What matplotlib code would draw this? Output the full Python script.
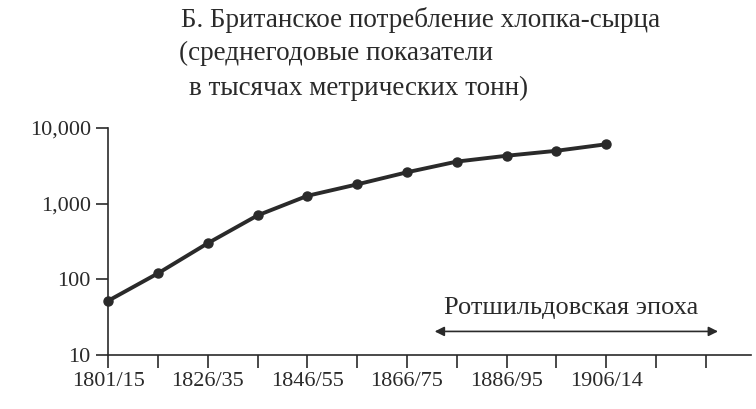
import matplotlib
matplotlib.use("Agg")
import matplotlib.pyplot as plt
from matplotlib.ticker import FixedLocator, NullLocator

periods = ["1801/15", "", "1826/35", "", "1846/55", "", "1866/75", "", "1886/95", "", "1906/14"]
values = [52, 120, 300, 700, 1270, 1800, 2600, 3600, 4300, 5000, 6100]
yticks = [10, 100, 1000, 10000]
ylabels = ["10", "100", "1,000", "10,000"]
title = ["Б. Британское потребление хлопка-сырца",
         " (среднегодовые показатели",
         "  в тысячах метрических тонн)"]
era = "Ротшильдовская эпоха"

plt.rcParams['font.family'] = ['Liberation Serif', 'DejaVu Serif']
fig = plt.figure(figsize=(7.56, 4.09), dpi=100)
ax = fig.add_axes([0.143, 0.132, 0.85, 0.555])
x = list(range(len(values)))
ax.plot(x, values, color="#2a2a2a", lw=2.8, marker="o", ms=6.5, clip_on=False)
ax.set_yscale("log")
ax.set_ylim(10, 10000)
ax.set_xlim(0, 12.9)
ax.yaxis.set_major_locator(FixedLocator(yticks))
ax.yaxis.set_minor_locator(NullLocator())
ax.set_yticklabels(ylabels, fontsize=16)
ticks = list(range(13))
ax.set_xticks(ticks)
ax.set_xticklabels(periods + ["", ""], fontsize=16)
ax.tick_params(direction="out", length=9, width=1.2, color="#2a2a2a", labelcolor="#2a2a2a")
for s in ["top", "right"]:
    ax.spines[s].set_visible(False)
for s in ["left", "bottom"]:
    ax.spines[s].set_linewidth(1.2)
    ax.spines[s].set_color("#2a2a2a")
ax.annotate("", xy=(6.5, 20.5), xytext=(12.3, 20.5),
            arrowprops=dict(arrowstyle="<|-|>", color="#2a2a2a", lw=1.2, mutation_scale=14))
ax.text(9.3, 30, era, fontsize=19, ha="center", va="bottom", color="#2a2a2a")
ys = [0.95, 0.87, 0.785]
xs = [0.24, 0.237, 0.25]
for t, yy, xx in zip(title, ys, xs):
    fig.text(xx, yy, t.strip(), fontsize=19.5, ha="left", va="center", color="#2a2a2a")
fig.savefig("out.png", dpi=100)
